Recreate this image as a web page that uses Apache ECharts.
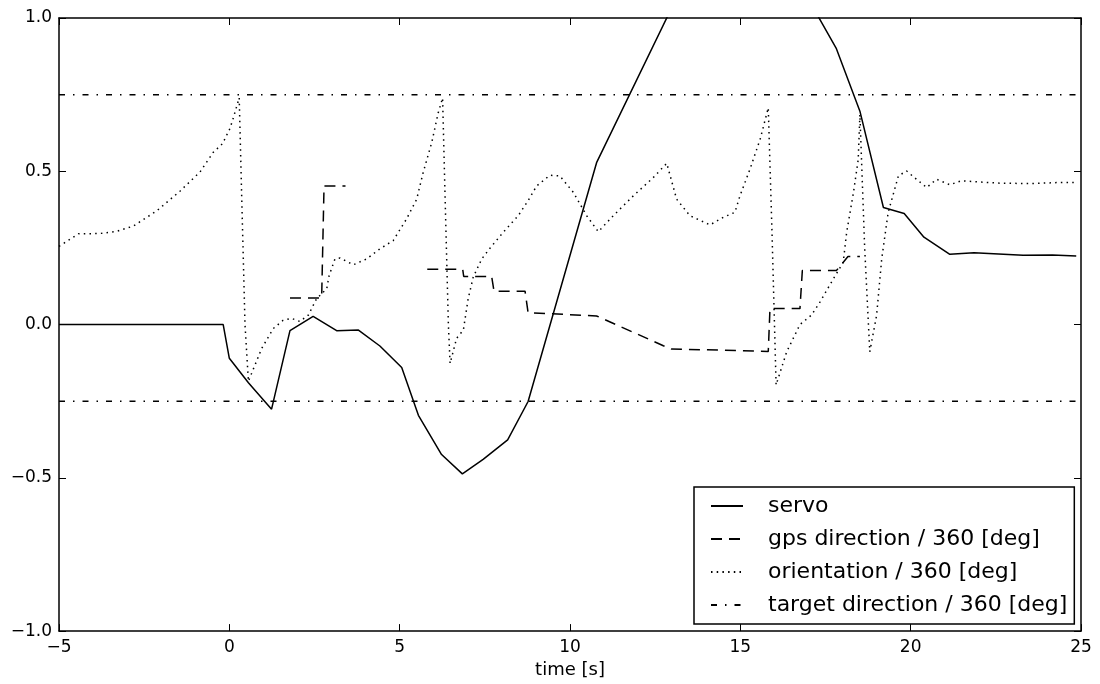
<!DOCTYPE html>
<html>
<head>
<meta charset="utf-8">
<script src="https://cdn.jsdelivr.net/npm/echarts@6/dist/echarts.min.js"></script>
<style>
html,body{margin:0;padding:0;background:#fff;}
#chart{width:1100px;height:684px;}
</style>
</head>
<body>
<div id="chart"></div>
<script>
// ---- data ----
const servoT = [-5, -0.18, 0.0, 0.56, 1.24, 1.78, 2.46, 3.15, 3.79, 4.42, 5.06, 5.55, 6.23, 6.84, 7.45, 8.17, 8.77, 10.78, 13.45, 16.7, 17.82, 18.51, 19.2, 19.81, 20.39, 21.15, 21.86, 23.3, 24.16, 24.86];
const servoV = [0, 0, -0.11, -0.19, -0.276, -0.02, 0.027, -0.02, -0.018, -0.07, -0.14, -0.296, -0.424, -0.487, -0.44, -0.376, -0.251, 0.528, 1.14, 1.12, 0.90, 0.696, 0.382, 0.362, 0.285, 0.229, 0.234, 0.226, 0.227, 0.224];

const gpsT = [1.78, 2.71, 2.78, 3.41, null, 5.81, 6.85, 6.88, 7.70, 7.77, 8.68, 8.77, 10.78, 12.74, 12.98, 14.99, 15.82, 15.87, 16.75, 16.82, 17.82, 18.16, 18.51];
const gpsV = [0.087, 0.087, 0.452, 0.452, null, 0.18, 0.18, 0.157, 0.157, 0.109, 0.109, 0.039, 0.028, -0.069, -0.08, -0.085, -0.088, 0.052, 0.052, 0.176, 0.176, 0.222, 0.222];

const orientT = [-5.0, -4.43, -3.8, -3.31, -2.82, -2.13, -1.45, -0.86, -0.47, -0.2, 0.02, 0.12, 0.29, 0.36, 0.46, 0.56, 0.95, 1.29, 1.58, 1.83, 2.07, 2.32, 2.56, 2.86, 2.93, 3.1, 3.25, 3.64, 4.03, 4.42, 4.81, 5.2, 5.5, 5.69, 5.94, 6.13, 6.26, 6.33, 6.43, 6.48, 6.67, 6.87, 7.01, 7.16, 7.41, 7.65, 8.04, 8.48, 8.77, 9.02, 9.41, 9.7, 10.1, 10.49, 10.83, 11.27, 11.86, 12.44, 12.84, 13.13, 13.52, 14.11, 14.5, 14.84, 14.99, 15.28, 15.58, 15.82, 15.93, 16.05, 16.36, 16.75, 17.09, 17.34, 17.73, 18.02, 18.12, 18.32, 18.46, 18.51, 18.65, 18.8, 19.0, 19.15, 19.34, 19.64, 19.88, 20.17, 20.47, 20.76, 21.15, 21.49, 22.62, 23.6, 24.28, 24.87];
const orientV = [0.255, 0.296, 0.297, 0.304, 0.321, 0.371, 0.435, 0.498, 0.562, 0.59, 0.64, 0.675, 0.74, 0.43, 0.0, -0.185, -0.078, -0.013, 0.014, 0.02, 0.01, 0.031, 0.084, 0.117, 0.16, 0.214, 0.217, 0.195, 0.214, 0.247, 0.274, 0.344, 0.409, 0.496, 0.593, 0.69, 0.739, 0.43, 0.0, -0.127, -0.045, -0.018, 0.084, 0.155, 0.214, 0.249, 0.301, 0.355, 0.404, 0.452, 0.487, 0.485, 0.431, 0.355, 0.303, 0.355, 0.42, 0.479, 0.526, 0.409, 0.355, 0.325, 0.35, 0.366, 0.42, 0.506, 0.604, 0.707, 0.3, -0.197, -0.089, 0.0, 0.031, 0.074, 0.149, 0.203, 0.3, 0.43, 0.538, 0.685, 0.25, -0.089, 0.03, 0.214, 0.366, 0.485, 0.501, 0.474, 0.447, 0.474, 0.456, 0.469, 0.461, 0.46, 0.463, 0.463];

const targetLevels = [0.75, -0.25];
const xRange = [-5, 25];
const yRange = [-1, 1];

const names = ['servo', 'gps direction / 360 [deg]', 'orientation / 360 [deg]', 'target direction / 360 [deg]'];

function pairs(t, v) { return t.map((x, i) => (x === null ? [null, null] : [x, v[i]])); }
const minus = s => String(s).replace('-', '\u2212');

const FONT = 'DejaVu Sans';
const LW = 1.5;

const series = [
  { name: names[0], type: 'line', data: pairs(servoT, servoV), symbol: 'none', clip: true,
    lineStyle: { color: '#000', width: LW, type: 'solid' }, itemStyle: { color: '#000' } },
  { name: names[1], type: 'line', data: pairs(gpsT, gpsV), symbol: 'none', connectNulls: false,
    lineStyle: { color: '#000', width: LW, type: [11, 7] }, itemStyle: { color: '#000' } },
  { name: names[2], type: 'line', data: pairs(orientT, orientV), symbol: 'none',
    lineStyle: { color: '#000', width: LW, type: [1.5, 4.2] }, itemStyle: { color: '#000' } }
];
targetLevels.forEach(lv => {
  series.push({ name: names[3], type: 'line', data: [[xRange[0], lv], [xRange[1], lv]], symbol: 'none',
    lineStyle: { color: '#000', width: LW, type: [6, 8, 1.5, 8] }, itemStyle: { color: '#000' } });
});

const axisCommon = {
  type: 'value',
  axisLine: { show: true, onZero: false, lineStyle: { color: '#000', width: 1.5 } },
  axisTick: { show: true, inside: true, length: 7, lineStyle: { color: '#000', width: 1 } },
  splitLine: { show: false }
};

const chart = echarts.init(document.getElementById('chart'), null, { renderer: 'canvas' });
chart.setOption({
  animation: false,
  backgroundColor: '#fff',
  grid: { left: 59, right: 19, top: 18, bottom: 50, containLabel: false },
  xAxis: [
    Object.assign({}, axisCommon, { position: 'bottom', min: xRange[0], max: xRange[1], interval: 5,
      name: 'time [s]', nameLocation: 'middle', nameGap: 29,
      nameTextStyle: { fontFamily: FONT, fontSize: 18, color: '#000' },
      axisLabel: { fontFamily: FONT, fontSize: 17, color: '#000', margin: 8, formatter: v => minus(v) } }),
    Object.assign({}, axisCommon, { position: 'top', min: xRange[0], max: xRange[1], interval: 5,
      axisLabel: { show: false } })
  ],
  yAxis: [
    Object.assign({}, axisCommon, { position: 'left', min: yRange[0], max: yRange[1], interval: 0.5,
      axisLabel: { fontFamily: FONT, fontSize: 17, color: '#000', margin: 7, formatter: v => minus(v.toFixed(1)) } }),
    Object.assign({}, axisCommon, { position: 'right', min: yRange[0], max: yRange[1], interval: 0.5,
      axisLabel: { show: false } })
  ],
  legend: {
    data: names,
    orient: 'vertical',
    left: 694, top: 487,
    backgroundColor: '#fff',
    borderColor: '#000', borderWidth: 1.5, borderRadius: 0,
    padding: [8, 7, 8, 16],
    itemWidth: 32, itemHeight: 14, itemGap: 11,
    selectedMode: false,
    itemStyle: { color: 'rgba(0,0,0,0)', borderColor: 'rgba(0,0,0,0)', borderWidth: 0 },
    textStyle: { fontFamily: FONT, fontSize: 22, color: '#000', lineHeight: 20, padding: [0, 0, 0, 20] }
  },
  series: series
});
</script>
</body>
</html>
